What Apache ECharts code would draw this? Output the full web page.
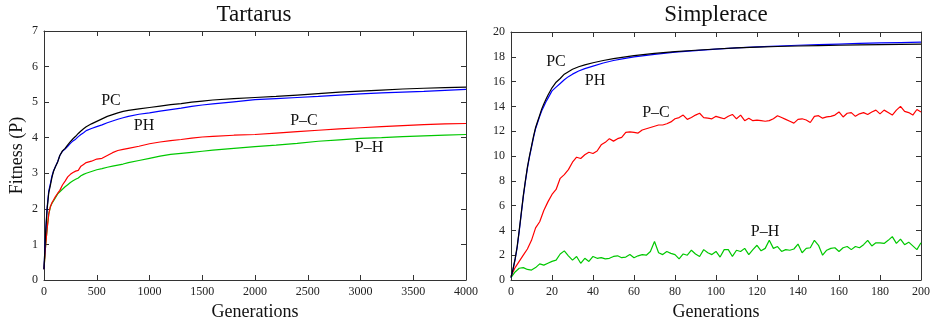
<!DOCTYPE html>
<html><head><meta charset="utf-8">
<script src="https://cdn.jsdelivr.net/npm/echarts@6/dist/echarts.min.js"></script>
<style>html,body{margin:0;padding:0;background:#fff}#c{width:935px;height:326px}</style>
</head><body><div id="c"></div>
<script>
// ---- Tartarus ----
const T_GEN = [0,15,30,45,60,75,90,110,130,150,175,200,225,250,275,300,325,350,375,400,450,500,550,600,650,700,750,800,900,1000,1100,1200,1300,1400,1500,1600,1800,2000,2200,2400,2600,2800,3000,3200,3400,3600,3800,4000];
const T_PC = [0.3,1.3,2.0,2.45,2.65,2.88,3.05,3.2,3.32,3.5,3.63,3.7,3.8,3.89,3.97,4.04,4.12,4.19,4.25,4.31,4.39,4.46,4.53,4.6,4.65,4.7,4.74,4.77,4.81,4.85,4.89,4.93,4.96,5.0,5.03,5.06,5.1,5.13,5.16,5.2,5.24,5.28,5.31,5.34,5.37,5.39,5.41,5.42];
const T_PH = [0.3,1.35,2.05,2.5,2.7,2.92,3.07,3.2,3.33,3.5,3.62,3.68,3.76,3.84,3.91,3.96,4.03,4.09,4.14,4.2,4.26,4.31,4.36,4.42,4.47,4.52,4.56,4.6,4.66,4.7,4.75,4.79,4.83,4.88,4.92,4.95,5.01,5.07,5.1,5.13,5.16,5.2,5.23,5.26,5.28,5.3,5.33,5.36];
const T_P_C = [0.3,0.95,1.45,1.85,2.06,2.17,2.25,2.35,2.44,2.52,2.67,2.78,2.9,2.97,3.02,3.06,3.08,3.2,3.25,3.3,3.34,3.4,3.42,3.5,3.58,3.64,3.67,3.7,3.76,3.83,3.88,3.92,3.95,3.99,4.02,4.04,4.07,4.09,4.13,4.17,4.21,4.25,4.28,4.31,4.34,4.37,4.39,4.4];
const T_P_H = [0.3,0.95,1.45,1.85,2.05,2.15,2.22,2.32,2.42,2.48,2.55,2.62,2.68,2.74,2.79,2.83,2.87,2.93,2.97,3.0,3.05,3.1,3.13,3.17,3.2,3.23,3.26,3.3,3.36,3.42,3.48,3.53,3.56,3.59,3.62,3.65,3.7,3.75,3.79,3.84,3.9,3.94,3.98,4.0,4.03,4.05,4.07,4.09];

// ---- Simplerace ----
const S_GEN_SMOOTH = [0,1,2,3,4,5,6,7,8,9,10,11,12,13,14,15,16,17,18,19,20,22,24,26,28,30,33,36,40,45,50,55,60,70,80,90,100,110,120,130,140,150,160,170,180,190,200];
const S_PC = [0.2,0.9,1.7,2.7,4.0,5.4,6.8,8.0,9.1,10.0,10.8,11.6,12.3,12.8,13.3,13.8,14.2,14.55,14.9,15.2,15.5,15.95,16.25,16.6,16.8,17.0,17.2,17.35,17.52,17.7,17.85,17.98,18.1,18.28,18.42,18.53,18.63,18.72,18.78,18.83,18.87,18.9,18.93,18.96,18.98,19.0,19.02];
const S_PH = [0.2,0.85,1.65,2.6,3.9,5.3,6.7,7.9,9.0,9.9,10.7,11.5,12.2,12.7,13.2,13.65,14.0,14.35,14.65,14.95,15.25,15.55,15.85,16.15,16.4,16.6,16.85,17.05,17.25,17.5,17.7,17.85,18.0,18.2,18.38,18.5,18.62,18.72,18.8,18.87,18.93,18.98,19.03,19.08,19.12,19.15,19.18];
const S_GEN_NOISY = [0,2,4,6,8,10,12,14,16,18,20,22,24,26,28,30,32,34,36,38,40,42,44,46,48,50,52,54,56,58,60,62,64,66,68,70,72,74,76,78,80,82,84,86,88,90,92,94,96,98,100,102,104,106,108,110,112,114,116,118,120,122,124,126,128,130,132,134,136,138,140,142,144,146,148,150,152,154,156,158,160,162,164,166,168,170,172,174,176,178,180,182,184,186,188,190,192,194,196,198,200];
const S_P_C = [0.3,1.0,1.5,2.0,2.5,3.2,4.2,4.7,5.6,6.3,6.9,7.3,8.2,8.5,8.9,9.5,9.9,9.8,10.1,10.3,10.2,10.4,10.9,11.1,11.4,11.2,11.4,11.5,11.9,11.95,11.9,11.85,12.1,12.2,12.3,12.4,12.5,12.5,12.6,12.75,13.0,13.1,13.3,12.95,13.1,13.3,13.45,13.1,13.05,13.0,13.2,13.1,13.0,13.2,13.35,13.0,13.3,12.85,13.05,12.85,12.9,12.85,12.8,12.85,13.0,13.25,13.1,12.95,12.8,12.65,12.95,13.0,12.9,12.7,13.2,13.25,13.05,13.15,13.2,13.3,13.55,13.15,13.45,13.5,13.2,13.4,13.5,13.35,13.55,13.7,13.4,13.7,13.5,13.3,13.7,14.0,13.6,13.5,13.3,13.75,13.55];
const S_P_H = [0.2,0.65,0.95,1.0,0.85,0.8,1.0,1.3,1.2,1.35,1.5,1.6,2.1,2.35,1.95,1.6,1.9,1.35,1.75,1.5,1.9,1.75,1.8,1.7,1.75,1.9,1.95,1.8,1.85,2.05,1.8,1.95,2.05,2.0,2.3,3.1,2.2,2.05,2.3,2.15,2.05,1.7,2.1,2.0,2.4,2.1,1.9,2.45,2.2,2.05,2.3,1.85,2.45,2.45,1.9,2.4,2.3,2.55,2.05,2.45,2.8,2.35,2.55,3.2,2.55,2.7,2.3,2.45,2.4,2.5,2.9,2.2,2.55,2.6,3.2,2.8,2.0,2.4,2.55,2.6,2.3,2.6,2.7,2.45,2.7,2.6,2.85,3.2,2.75,3.0,3.0,2.95,3.2,3.5,2.95,3.3,2.85,3.05,2.75,2.45,3.0];

const T_TICKS_X = {min:0, max:4000, interval:500};
const T_TICKS_Y = {min:0, max:7, interval:1};
const S_TICKS_X = {min:0, max:200, interval:20};
const S_TICKS_Y = {min:0, max:20, interval:2};

const FONT = '"Liberation Serif", "DejaVu Serif", serif';
const pair = (xs, ys) => xs.map((x,i)=>[x, ys[i]]);

function xAx(grid, t, pos, name){
  return {type:'value', gridIndex:grid, position:pos, min:t.min, max:t.max, interval:t.interval,
    axisLine:{show:true, onZero:false, lineStyle:{color:'#333', width:1}},
    axisTick:{show:true, inside:true, length:5, lineStyle:{color:'#333'}},
    axisLabel:{show:pos==='bottom', fontFamily:FONT, fontSize:12, color:'#222', margin:6, formatter:v=>String(v)},
    splitLine:{show:false},
    name: name||'', nameLocation:'middle', nameGap:19,
    nameTextStyle:{fontFamily:FONT, fontSize:18, color:'#111'}};
}
function yAx(grid, t, pos, name){
  return {type:'value', gridIndex:grid, position:pos, min:t.min, max:t.max, interval:t.interval,
    axisLine:{show:true, onZero:false, lineStyle:{color:'#333', width:1}},
    axisTick:{show:true, inside:true, length:5, lineStyle:{color:'#333'}},
    axisLabel:{show:pos==='left', fontFamily:FONT, fontSize:12, color:'#222', margin:6, formatter:v=>String(v)},
    splitLine:{show:false},
    name: name||'', nameLocation:'middle', nameGap:18,
    nameTextStyle:{fontFamily:FONT, fontSize:18, color:'#111'}};
}
function line(xi, yi, data, color){
  return {type:'line', xAxisIndex:xi, yAxisIndex:yi, data:data, showSymbol:false, symbol:'none',
    lineStyle:{color:color, width:1.2}, itemStyle:{color:color}, silent:true};
}
function txt(x, y, s, size){
  return {type:'text', x:x, y:y, style:{text:s, fontFamily:FONT, fontSize:size, fill:'#111', textAlign:'center', textVerticalAlign:'middle'}};
}

const chart = echarts.init(document.getElementById('c'), null, {renderer:'canvas'});
chart.setOption({
  animation:false,
  backgroundColor:'#fff',
  grid:[
    {left:44, right:469, top:31, bottom:46},
    {left:511, right:14, top:32, bottom:46}
  ],
  xAxis:[
    xAx(0, T_TICKS_X, 'bottom', 'Generations'),
    xAx(0, T_TICKS_X, 'top'),
    xAx(1, S_TICKS_X, 'bottom', 'Generations'),
    xAx(1, S_TICKS_X, 'top')
  ],
  yAxis:[
    yAx(0, T_TICKS_Y, 'left', 'Fitness (P)'),
    yAx(0, T_TICKS_Y, 'right'),
    yAx(1, S_TICKS_Y, 'left'),
    yAx(1, S_TICKS_Y, 'right')
  ],
  series:[
    line(0,0,pair(T_GEN,T_P_H),'#00c800'),
    line(0,0,pair(T_GEN,T_P_C),'#ff0000'),
    line(0,0,pair(T_GEN,T_PH),'#0000ff'),
    line(0,0,pair(T_GEN,T_PC),'#000000'),
    line(2,2,pair(S_GEN_NOISY,S_P_H),'#00c800'),
    line(2,2,pair(S_GEN_NOISY,S_P_C),'#ff0000'),
    line(2,2,pair(S_GEN_SMOOTH,S_PH),'#0000ff'),
    line(2,2,pair(S_GEN_SMOOTH,S_PC),'#000000')
  ],
  graphic:[
    txt(254, 15, 'Tartarus', 23),
    txt(716, 15, 'Simplerace', 23),
    txt(111, 101, 'PC', 16),
    txt(144, 126, 'PH', 16),
    txt(304, 121, 'P\u2013C', 16),
    txt(369, 148, 'P\u2013H', 16),
    txt(556, 62, 'PC', 16),
    txt(595, 81, 'PH', 16),
    txt(656, 113, 'P\u2013C', 16),
    txt(765, 232, 'P\u2013H', 16)
  ]
});
</script></body></html>
